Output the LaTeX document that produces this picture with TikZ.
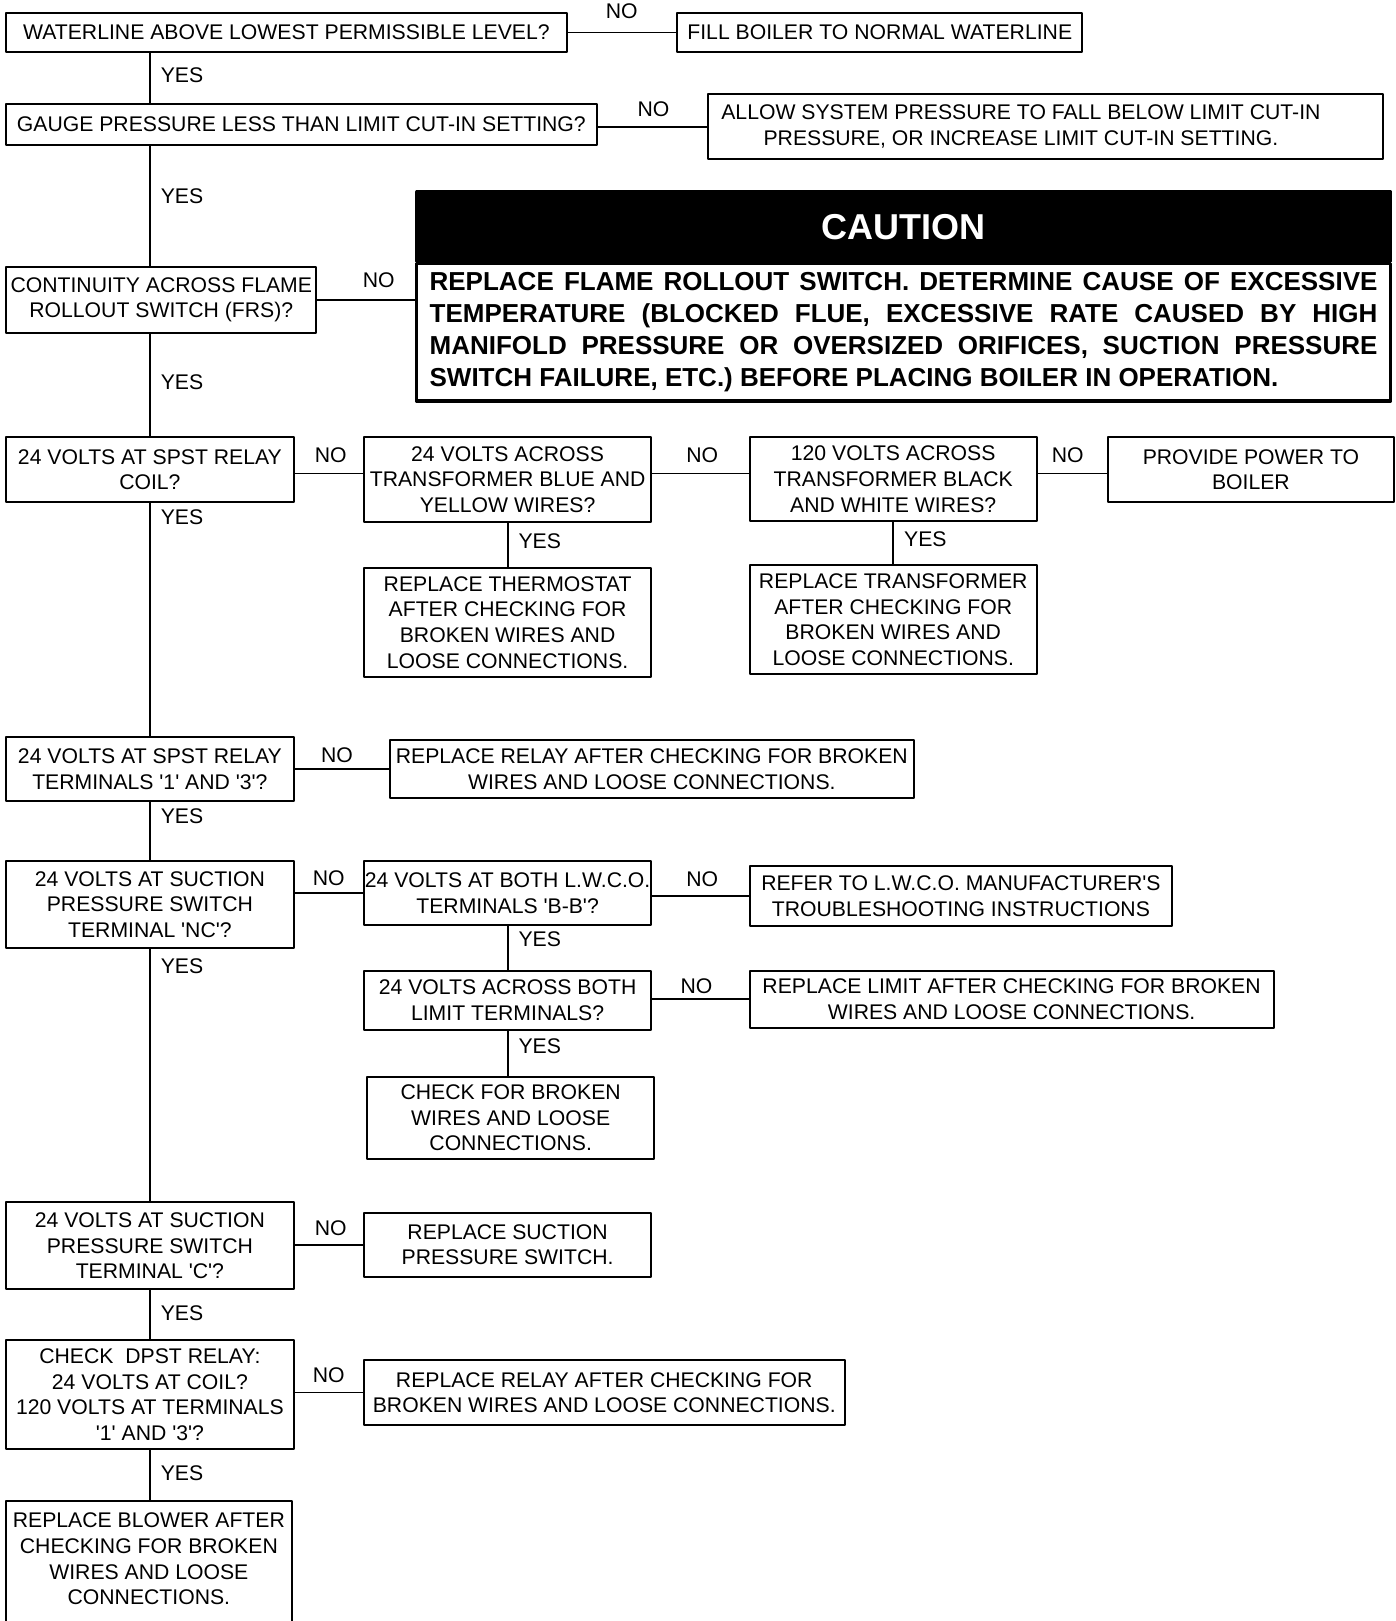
\documentclass[tikz,border=0pt]{standalone}
\usepackage{fontspec}
\setmainfont{Liberation Sans}[Ligatures=TeXOff]
\begin{document}
\begin{tikzpicture}[x=0.517pt, y=-0.517pt, line join=round,
	box/.style={draw, line width=1pt, align=center, inner sep=0pt, font=\fontsize{10.6}{12.8}\selectfont},
	wire/.style={line width=0.9pt},
	lab/.style={font=\fontsize{10.6}{12.8}\selectfont, inner sep=2pt}]
	\def\u{0.517pt}
	\useasboundingbox (0,0) rectangle (1350,1568);
	\clip (0,0) rectangle (1350,1568);
	\coordinate (spine) at (145,0);
	\coordinate (row) at (0,458);
	% main column
	\node[box, minimum width=542*\u, minimum height=37*\u] (wl) at (277,31.5) {WATERLINE ABOVE LOWEST PERMISSIBLE LEVEL?};
	\node[box, minimum width=571*\u, minimum height=39*\u] (gp) at (291.5,120.5) {GAUGE PRESSURE LESS THAN LIMIT CUT-IN SETTING?};
	\node[box, minimum width=300*\u, minimum height=64*\u] (cont) at (156,290) {CONTINUITY ACROSS FLAME\\ROLLOUT SWITCH (FRS)?};
	\node[box, minimum width=278*\u, minimum height=63*\u] (coil) at (145,454.5) {24 VOLTS AT SPST RELAY\\COIL?};
	\node[box, minimum width=278*\u, minimum height=62*\u] (term) at (145,744) {24 VOLTS AT SPST RELAY\\TERMINALS '1' AND '3'?};
	\node[box, minimum width=278*\u, minimum height=84*\u] (nc) at (145,875) {24 VOLTS AT SUCTION\\PRESSURE SWITCH\\TERMINAL 'NC'?};
	\node[box, minimum width=278*\u, minimum height=84*\u] (cterm) at (145,1205) {24 VOLTS AT SUCTION\\PRESSURE SWITCH\\TERMINAL 'C'?};
	\node[box, minimum width=278*\u, minimum height=106*\u] (dpst) at (145,1349) {CHECK\ \ DPST RELAY:\\24 VOLTS AT COIL?\\120 VOLTS AT TERMINALS\\'1' AND '3'?};
	\node[box, minimum width=276*\u, minimum height=138*\u, text depth=26*\u] (blower) at (144,1521) {REPLACE BLOWER AFTER\\CHECKING FOR BROKEN\\WIRES AND LOOSE\\CONNECTIONS.};
	% right hand boxes
	\node[box, minimum width=392*\u, minimum height=37*\u] (fill) at (851,31.5) {FILL BOILER TO NORMAL WATERLINE};
	\node[box, minimum width=653*\u, minimum height=63*\u] (allow) at (1011.5,122.5) {ALLOW SYSTEM PRESSURE TO FALL BELOW LIMIT CUT-IN\hspace*{24.8pt}\\PRESSURE, OR INCREASE LIMIT CUT-IN SETTING.\hspace*{24.8pt}};
	\node[draw, fill=black, line width=1.8pt, minimum width=942*\u, minimum height=67*\u, inner sep=0pt, text=white, font=\bfseries\fontsize{18}{20}\selectfont] (cauthd) at (874,219.5) {CAUTION};
	\node[draw, line width=1.8pt, minimum width=942*\u, minimum height=133*\u, inner sep=0pt, text width=474pt, align=justify, font=\bfseries\fontsize{13}{16}\selectfont, execute at begin node={\hyphenpenalty=10000\relax}] (caution) at (874,321.5) {REPLACE FLAME ROLLOUT SWITCH. DETERMINE CAUSE OF EXCESSIVE TEMPERATURE (BLOCKED FLUE, EXCESSIVE RATE CAUSED BY HIGH MANIFOLD PRESSURE OR OVERSIZED ORIFICES, SUCTION PRESSURE SWITCH FAILURE, ETC.) BEFORE PLACING BOILER IN OPERATION.};
	\node[box, minimum width=278*\u, minimum height=82*\u] (tbw) at (491,464) {24 VOLTS ACROSS\\TRANSFORMER BLUE AND\\YELLOW WIRES?};
	\node[box, minimum width=278*\u, minimum height=81*\u] (bw) at (864,463.5) {120 VOLTS ACROSS\\TRANSFORMER BLACK\\AND WHITE WIRES?};
	\node[box, minimum width=276*\u, minimum height=63*\u] (power) at (1210,454.5) {PROVIDE POWER TO\\BOILER};
	\node[box, minimum width=278*\u, minimum height=106*\u] (thermo) at (491,602) {REPLACE THERMOSTAT\\AFTER CHECKING FOR\\BROKEN WIRES AND\\LOOSE CONNECTIONS.};
	\node[box, minimum width=278*\u, minimum height=105*\u] (xfmr) at (864,599.5) {REPLACE TRANSFORMER\\AFTER CHECKING FOR\\BROKEN WIRES AND\\LOOSE CONNECTIONS.};
	\node[box, minimum width=507*\u, minimum height=56*\u] (relay) at (630.5,744) {REPLACE RELAY AFTER CHECKING FOR BROKEN\\WIRES AND LOOSE CONNECTIONS.};
	\node[box, minimum width=278*\u, minimum height=62*\u] (lwco) at (491,864) {24 VOLTS AT BOTH L.W.C.O.\\TERMINALS 'B-B'?};
	\node[box, minimum width=409*\u, minimum height=58*\u] (refer) at (929.5,867) {REFER TO L.W.C.O. MANUFACTURER'S\\TROUBLESHOOTING INSTRUCTIONS};
	\node[box, minimum width=278*\u, minimum height=57*\u] (lim) at (491,967.5) {24 VOLTS ACROSS BOTH\\LIMIT TERMINALS?};
	\node[box, minimum width=507*\u, minimum height=55*\u] (rlim) at (978.5,966.5) {REPLACE LIMIT AFTER CHECKING FOR BROKEN\\WIRES AND LOOSE CONNECTIONS.};
	\node[box, minimum width=278*\u, minimum height=79*\u] (chk) at (494,1081.5) {CHECK FOR BROKEN\\WIRES AND LOOSE\\CONNECTIONS.};
	\node[box, minimum width=278*\u, minimum height=62*\u] (rsuc) at (491,1204) {REPLACE SUCTION\\PRESSURE SWITCH.};
	\node[box, minimum width=465*\u, minimum height=62*\u] (relay2) at (584.5,1347) {REPLACE RELAY AFTER CHECKING FOR\\BROKEN WIRES AND LOOSE CONNECTIONS.};
	% YES down the spine
	\foreach \a/\b/\p in {wl/gp/.45, gp/cont/.42, cont/coil/.47, coil/term/.06, term/nc/.24, nc/cterm/.07, cterm/dpst/.47, dpst/blower/.46}
		\draw[wire] (\a.south -| spine) -- (\b.north -| spine) node[lab, pos=\p, right=3pt]{YES};
	\foreach \a/\b/\p in {tbw/thermo/.41, bw/xfmr/.4, lwco/lim/.3}
		\draw[wire] (\a.south) -- (\b.north) node[lab, pos=\p, right=3pt]{YES};
	\draw[wire] (lim.south) -- (lim.south |- chk.north) node[lab, pos=.33, right=3pt]{YES};
	% NO to the right
	\foreach \a/\b/\p/\s in {wl/fill/.5/4.3pt, gp/allow/.51/2.7pt, term/relay/.45/0.9pt, nc/lwco/.5/1.4pt, lwco/refer/.52/2.5pt, lim/rlim/.46/0.1pt, cterm/rsuc/.53/2pt, dpst/relay2/.5/2.5pt}
		\draw[wire] (\b.west -| \a.east) -- (\b.west) node[lab, pos=\p, above=\s]{NO};
	\draw[wire] (cont.east) -- (cont.east -| caution.west) node[lab, pos=.63, above=3.5pt]{NO};
	\foreach \a/\b/\p in {coil/tbw/.53, tbw/bw/.52, bw/power/.43}
		\draw[wire] (\a.east |- row) -- (\b.west |- row) node[lab, pos=\p, above=3pt]{NO};
\end{tikzpicture}
\end{document}
